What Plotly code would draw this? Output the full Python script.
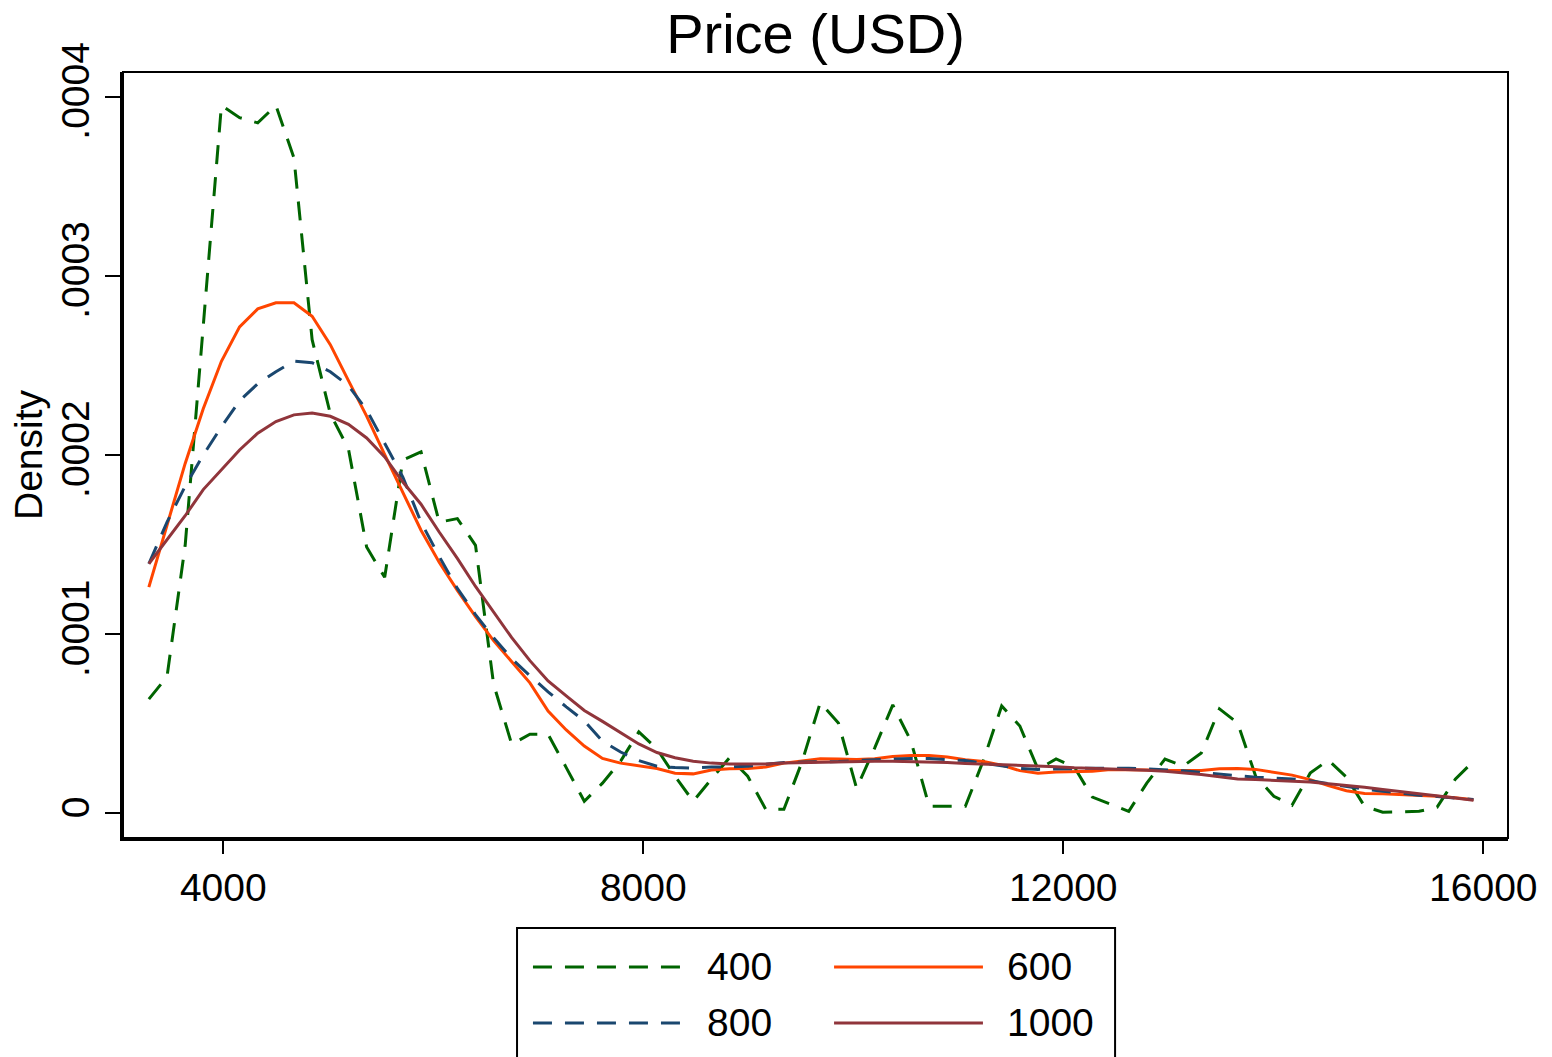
import plotly.graph_objects as go

# Evaluation grid for the kernel density estimates (price in USD)
price_grid = [
    3291, 3464, 3637, 3809, 3982, 4155, 4328, 4501, 4673, 4846,
    5019, 5192, 5365, 5537, 5710, 5883, 6056, 6229, 6402, 6574,
    6747, 6920, 7093, 7266, 7438, 7611, 7784, 7957, 8130, 8302,
    8475, 8648, 8821, 8994, 9166, 9339, 9512, 9685, 9858, 10031,
    10203, 10376, 10549, 10722, 10895, 11067, 11240, 11413, 11586, 11759,
    11931, 12104, 12277, 12450, 12623, 12795, 12968, 13141, 13314, 13487,
    13660, 13832, 14005, 14178, 14351, 14524, 14696, 14869, 15042, 15215,
    15388, 15560, 15733, 15906,
]

# Density estimates in units of 1e-4, one list per kernel bandwidth
density_bw400 = [
    0.637, 0.762, 1.496, 2.711, 3.951, 3.883, 3.854, 3.951, 3.658, 2.644,
    2.230, 2.034, 1.486, 1.317, 1.972, 2.018, 1.625, 1.645, 1.496, 0.721,
    0.385, 0.441, 0.441, 0.255, 0.067, 0.168, 0.291, 0.454, 0.359, 0.207,
    0.067, 0.190, 0.310, 0.207, 0.022, 0.022, 0.288, 0.618, 0.504, 0.140,
    0.364, 0.605, 0.403, 0.039, 0.039, 0.039, 0.297, 0.599, 0.487, 0.246,
    0.303, 0.258, 0.090, 0.050, 0.011, 0.168, 0.303, 0.263, 0.336, 0.583,
    0.504, 0.207, 0.095, 0.045, 0.224, 0.297, 0.202, 0.039, 0.006, 0.008,
    0.011, 0.034, 0.190, 0.291,
]
density_bw600 = [
    1.262, 1.608, 1.953, 2.258, 2.523, 2.715, 2.816, 2.850, 2.850, 2.775,
    2.616, 2.415, 2.217, 2.002, 1.795, 1.580, 1.401, 1.244, 1.098, 0.964,
    0.846, 0.728, 0.571, 0.465, 0.375, 0.306, 0.280, 0.263, 0.250, 0.224,
    0.220, 0.241, 0.249, 0.250, 0.258, 0.280, 0.294, 0.305, 0.303, 0.300,
    0.304, 0.317, 0.322, 0.322, 0.314, 0.299, 0.289, 0.269, 0.238, 0.224,
    0.230, 0.231, 0.235, 0.245, 0.245, 0.241, 0.239, 0.239, 0.239, 0.249,
    0.250, 0.245, 0.230, 0.213, 0.188, 0.154, 0.126, 0.110, 0.109, 0.105,
    0.099, 0.095, 0.087, 0.076,
]
density_bw800 = [
    1.393, 1.625, 1.826, 2.000, 2.157, 2.303, 2.398, 2.465, 2.524, 2.515,
    2.465, 2.387, 2.252, 2.065, 1.877, 1.625, 1.434, 1.255, 1.109, 0.980,
    0.863, 0.768, 0.678, 0.594, 0.515, 0.403, 0.342, 0.294, 0.263, 0.255,
    0.252, 0.258, 0.258, 0.263, 0.275, 0.283, 0.286, 0.286, 0.289, 0.295,
    0.300, 0.303, 0.306, 0.306, 0.301, 0.294, 0.280, 0.263, 0.250, 0.245,
    0.245, 0.249, 0.252, 0.254, 0.252, 0.248, 0.244, 0.237, 0.228, 0.218,
    0.207, 0.201, 0.197, 0.192, 0.182, 0.165, 0.150, 0.134, 0.123, 0.111,
    0.101, 0.094, 0.085, 0.077,
]
density_bw1000 = [
    1.393, 1.529, 1.661, 1.807, 1.919, 2.028, 2.122, 2.187, 2.224, 2.234,
    2.216, 2.171, 2.095, 1.989, 1.849, 1.725, 1.570, 1.423, 1.266, 1.120,
    0.980, 0.852, 0.739, 0.655, 0.574, 0.513, 0.451, 0.387, 0.339, 0.310,
    0.291, 0.280, 0.275, 0.273, 0.275, 0.280, 0.283, 0.286, 0.289, 0.291,
    0.291, 0.291, 0.289, 0.287, 0.283, 0.278, 0.275, 0.272, 0.270, 0.266,
    0.260, 0.254, 0.251, 0.248, 0.245, 0.240, 0.234, 0.226, 0.216, 0.204,
    0.192, 0.188, 0.185, 0.182, 0.175, 0.165, 0.156, 0.145, 0.133, 0.120,
    0.108, 0.096, 0.085, 0.073,
]

bandwidth_labels = ["400", "600", "800", "1000"]
x_tick_values = [4000, 8000, 12000, 16000]
y_tick_values = [0, 0.0001, 0.0002, 0.0003, 0.0004]
y_tick_labels = ["0", ".0001", ".0002", ".0003", ".0004"]

FONT = "Liberation Sans, Arial, Helvetica, sans-serif"
DASH = "19px,13px"
series_style = [
    (density_bw400, "#006400", DASH),
    (density_bw600, "#ff4500", "solid"),
    (density_bw800, "#1a476f", DASH),
    (density_bw1000, "#90353b", "solid"),
]

fig = go.Figure()
for (values, color, dash), label in zip(series_style, bandwidth_labels):
    fig.add_trace(go.Scatter(
        x=price_grid,
        y=[v * 1e-4 for v in values],
        mode="lines",
        name=label,
        line=dict(color=color, width=3, dash=dash),
        showlegend=False,
    ))

fig.update_layout(
    width=1552,
    height=1057,
    paper_bgcolor="white",
    plot_bgcolor="white",
    margin=dict(l=123, r=44, t=72, b=219),
    font=dict(family=FONT, color="black"),
    title=dict(
        text="Price (USD)",
        font=dict(size=56, family=FONT, color="black"),
        x=0.5, xref="paper", xanchor="center",
        y=1 - 33 / 1057, yref="container", yanchor="middle",
    ),
    xaxis=dict(
        range=[3044.8, 16235],
        tickvals=x_tick_values,
        ticktext=[str(v) for v in x_tick_values],
        ticks="outside", ticklen=13, tickwidth=2, tickcolor="black",
        showline=True, linewidth=3, linecolor="black",
        showgrid=False, zeroline=False, automargin=False,
        tickfont=dict(size=39, family=FONT, color="black"),
    ),
    yaxis=dict(
        range=[-0.0000138, 0.0004138],
        tickvals=y_tick_values,
        ticktext=y_tick_labels,
        tickangle=-90,
        ticks="outside", ticklen=15, tickwidth=2, tickcolor="black",
        showline=True, linewidth=3, linecolor="black",
        showgrid=False, zeroline=False, automargin=False,
        tickfont=dict(size=39, family=FONT, color="black"),
        title=dict(text="Density", font=dict(size=39, family=FONT, color="black"), standoff=0),
    ),
)

# Thin frame around the plotting region
fig.add_shape(type="rect", xref="paper", yref="paper", x0=0, x1=1, y0=0, y1=1,
              line=dict(color="black", width=2), fillcolor="rgba(0,0,0,0)", layer="above")

# Legend box below the plot: two columns, two rows
fig.add_shape(type="rect", xref="paper", yref="paper",
              x0=0.2845, x1=0.7163, y0=-0.2924, y1=-0.1175,
              line=dict(color="black", width=2), fillcolor="white")

legend_rows = [-0.1684, -0.2415]
legend_cols = [(0.2960, 0.4043, 0.4202), (0.5134, 0.6209, 0.6368)]
for i, ((values, color, dash), label) in enumerate(zip(series_style, bandwidth_labels)):
    row, col = divmod(i, 2)
    x0, x1, xt = legend_cols[col]
    yy = legend_rows[row]
    fig.add_shape(type="line", xref="paper", yref="paper", x0=x0, x1=x1, y0=yy, y1=yy,
                  line=dict(color=color, width=3, dash=dash))
    fig.add_annotation(text=label, xref="paper", yref="paper", x=xt, y=yy,
                       xanchor="left", yanchor="middle", showarrow=False,
                       font=dict(size=39, family=FONT, color="black"))

fig.write_html("out.html")
